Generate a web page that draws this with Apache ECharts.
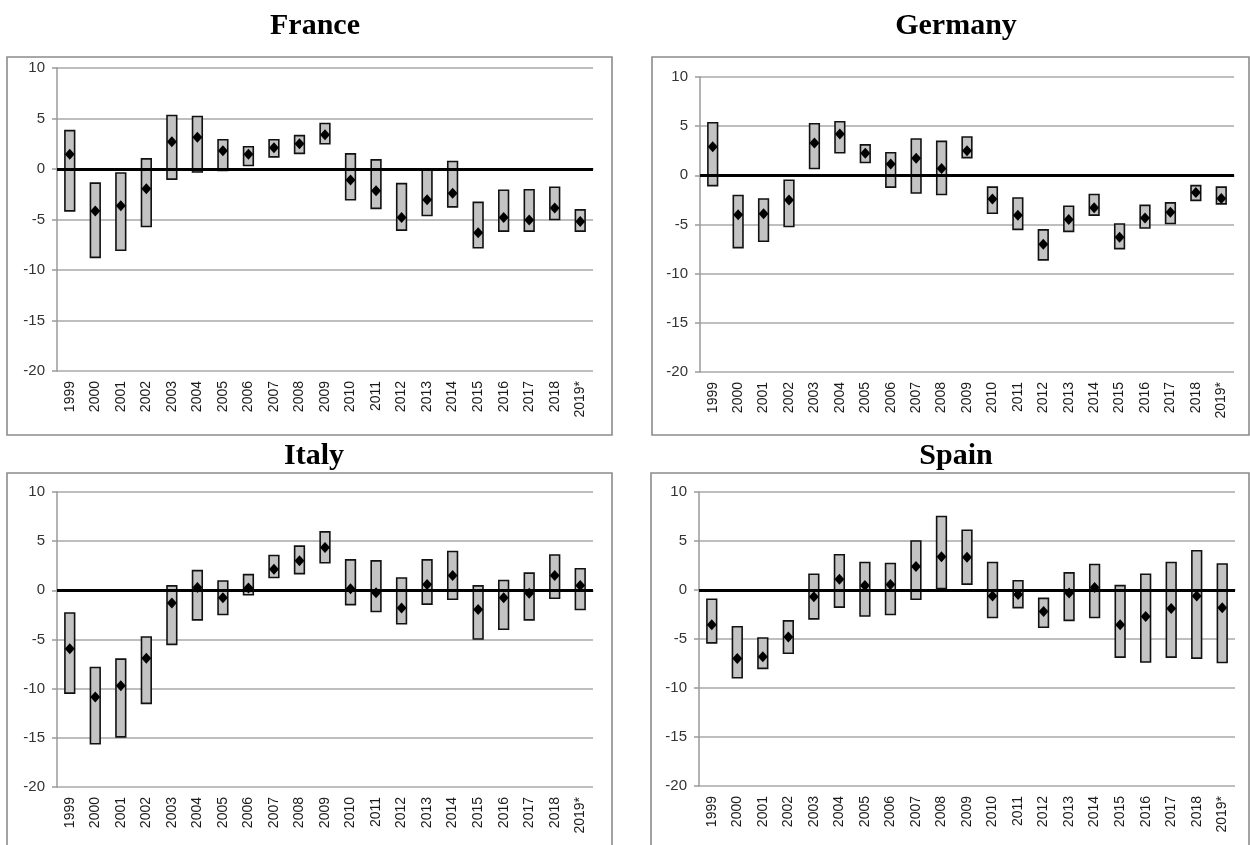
<!DOCTYPE html>
<html>
<head>
<meta charset="utf-8">
<title>France, Germany, Italy, Spain</title>
<script src="https://cdn.jsdelivr.net/npm/echarts@6/dist/echarts.min.js"></script>
<style>
  html, body { margin: 0; padding: 0; background: #fff; }
  #main { width: 1250px; height: 845px; }
</style>
</head>
<body>
<div id="main"></div>
<script>
// categories
var years = ["1999", "2000", "2001", "2002", "2003", "2004", "2005", "2006", "2007", "2008", "2009",
  "2010", "2011", "2012", "2013", "2014", "2015", "2016", "2017", "2018", "2019*"];
var yTicks = [-20, -15, -10, -5, 0, 5, 10];

// France
var franceHigh = [3.8, -1.4, -0.4, 1.0, 5.3, 5.2, 2.9, 2.2, 2.9, 3.3, 4.5, 1.5, 0.9, -1.45, -0.05, 0.75, -3.3, -2.1, -2.05, -1.8, -4.05];
var franceLow = [-4.15, -8.75, -8.05, -5.7, -1.0, -0.3, -0.15, 0.35, 1.2, 1.55, 2.5, -3.05, -3.9, -6.05, -4.6, -3.75, -7.8, -6.15, -6.15, -5.0, -6.15];
var franceMid = [1.45, -4.15, -3.65, -1.95, 2.7, 3.15, 1.8, 1.45, 2.1, 2.5, 3.4, -1.1, -2.15, -4.8, -3.05, -2.4, -6.3, -4.8, -5.05, -3.85, -5.2];

// Germany
var germanyHigh = [5.35, -2.05, -2.4, -0.5, 5.25, 5.45, 3.1, 2.3, 3.7, 3.45, 3.9, -1.2, -2.3, -5.55, -3.15, -1.95, -4.95, -3.05, -2.8, -1.05, -1.2];
var germanyLow = [-1.05, -7.35, -6.7, -5.2, 0.7, 2.3, 1.3, -1.2, -1.8, -1.95, 1.8, -3.85, -5.5, -8.6, -5.7, -4.05, -7.45, -5.35, -4.9, -2.55, -2.9];
var germanyMid = [2.9, -4.0, -3.9, -2.5, 3.3, 4.2, 2.25, 1.15, 1.75, 0.7, 2.5, -2.4, -4.05, -7.0, -4.5, -3.3, -6.3, -4.35, -3.75, -1.75, -2.35];

// Italy
var italyHigh = [-2.3, -7.85, -7.0, -4.75, 0.45, 2.0, 0.95, 1.6, 3.55, 4.5, 5.95, 3.1, 3.0, 1.25, 3.1, 3.95, 0.45, 1.0, 1.75, 3.6, 2.2];
var italyLow = [-10.45, -15.6, -14.9, -11.5, -5.5, -3.0, -2.45, -0.45, 1.3, 1.7, 2.8, -1.45, -2.15, -3.4, -1.4, -0.9, -4.95, -3.95, -3.0, -0.8, -1.95];
var italyMid = [-5.95, -10.85, -9.7, -6.9, -1.3, 0.3, -0.75, 0.25, 2.15, 3.0, 4.35, 0.15, -0.25, -1.8, 0.6, 1.5, -1.95, -0.75, -0.3, 1.5, 0.5];

// Spain
var spainHigh = [-0.95, -3.75, -4.9, -3.15, 1.6, 3.6, 2.8, 2.7, 5.0, 7.5, 6.1, 2.8, 0.95, -0.85, 1.75, 2.6, 0.45, 1.6, 2.8, 4.0, 2.65];
var spainLow = [-5.4, -8.95, -8.0, -6.45, -2.95, -1.75, -2.65, -2.5, -0.95, 0.15, 0.6, -2.8, -1.8, -3.8, -3.1, -2.8, -6.85, -7.35, -6.85, -6.95, -7.4];
var spainMid = [-3.55, -7.0, -6.8, -4.8, -0.7, 1.1, 0.45, 0.55, 2.4, 3.4, 3.35, -0.6, -0.45, -2.2, -0.3, 0.25, -3.55, -2.7, -1.9, -0.6, -1.8];

var panels = [
  { name: "France", high: franceHigh, low: franceLow, mid: franceMid,
    grid: { left: 57, top: 68, width: 536, height: 303 }, title: [310, 6], frame: [7, 57, 605, 378] },
  { name: "Germany", high: germanyHigh, low: germanyLow, mid: germanyMid,
    grid: { left: 700, top: 77, width: 534, height: 295 }, title: [951, 6], frame: [652, 57, 597, 378] },
  { name: "Italy", high: italyHigh, low: italyLow, mid: italyMid,
    grid: { left: 57, top: 492, width: 536, height: 295 }, title: [309, 436], frame: [7, 473, 605, 380] },
  { name: "Spain", high: spainHigh, low: spainLow, mid: spainMid,
    grid: { left: 699, top: 492, width: 536, height: 294 }, title: [951, 436], frame: [651, 473, 598, 380] }
];

function rangeItem(params, api) {
  var i = api.value(0);
  var top = api.coord([i, api.value(2)]);
  var bottom = api.coord([i, api.value(1)]);
  var w = api.size([1, 0])[0] * 0.38;
  return {
    type: "rect",
    shape: { x: top[0] - w / 2, y: top[1], width: w, height: bottom[1] - top[1] },
    style: { fill: "#c3c3c3", stroke: "#111", lineWidth: 1.6 }
  };
}

var option = {
  animation: false,
  backgroundColor: "#fff",
  title: [],
  graphic: [],
  grid: [],
  xAxis: [],
  yAxis: [],
  series: []
};

panels.forEach(function (p, k) {
  option.title.push({
    text: p.name,
    left: p.title[0],
    top: p.title[1],
    textAlign: "center",
    textStyle: { fontFamily: "Liberation Serif", fontWeight: "bold", fontSize: 30, color: "#000" }
  });
  option.graphic.push({
    type: "rect",
    silent: true,
    z: -10,
    shape: { x: p.frame[0], y: p.frame[1], width: p.frame[2], height: p.frame[3] },
    style: { fill: "none", stroke: "#8c8c8c", lineWidth: 1.6 }
  });
  option.grid.push(p.grid);
  option.xAxis.push({
    type: "category",
    gridIndex: k,
    data: years,
    boundaryGap: true,
    axisLine: { lineStyle: { color: "#9a9a9a", width: 1.5 } },
    axisTick: { show: false },
    axisLabel: { rotate: 90, margin: 10, fontFamily: "Liberation Sans", fontSize: 14, color: "#1a1a1a", interval: 0 },
    splitLine: { show: false }
  });
  option.yAxis.push({
    type: "value",
    gridIndex: k,
    min: yTicks[0],
    max: yTicks[yTicks.length - 1],
    interval: 5,
    axisLine: { show: true, lineStyle: { color: "#9a9a9a", width: 1.5 } },
    axisTick: { show: true, inside: false, length: 5, lineStyle: { color: "#9a9a9a", width: 1.5 } },
    axisLabel: { margin: 12, fontFamily: "Liberation Sans", fontSize: 15, color: "#333" },
    splitLine: { show: true, lineStyle: { color: "#a8a8a8", width: 1.5 } }
  });
  option.series.push({
    type: "custom",
    name: p.name + " range",
    xAxisIndex: k,
    yAxisIndex: k,
    renderItem: rangeItem,
    encode: { x: 0, y: [1, 2] },
    z: 2,
    data: years.map(function (y, i) { return [i, p.low[i], p.high[i]]; })
  });
  option.series.push({
    type: "scatter",
    name: p.name,
    xAxisIndex: k,
    yAxisIndex: k,
    symbol: "diamond",
    symbolSize: [10, 11],
    itemStyle: { color: "#000", opacity: 1 },
    z: 4,
    data: p.mid,
    markLine: {
      silent: true,
      symbol: "none",
      z: 3,
      label: { show: false },
      lineStyle: { color: "#000", width: 3, type: "solid", opacity: 1 },
      data: [{ yAxis: 0 }]
    }
  });
});

var myChart = echarts.init(document.getElementById("main"));
myChart.setOption(option);
</script>
</body>
</html>
